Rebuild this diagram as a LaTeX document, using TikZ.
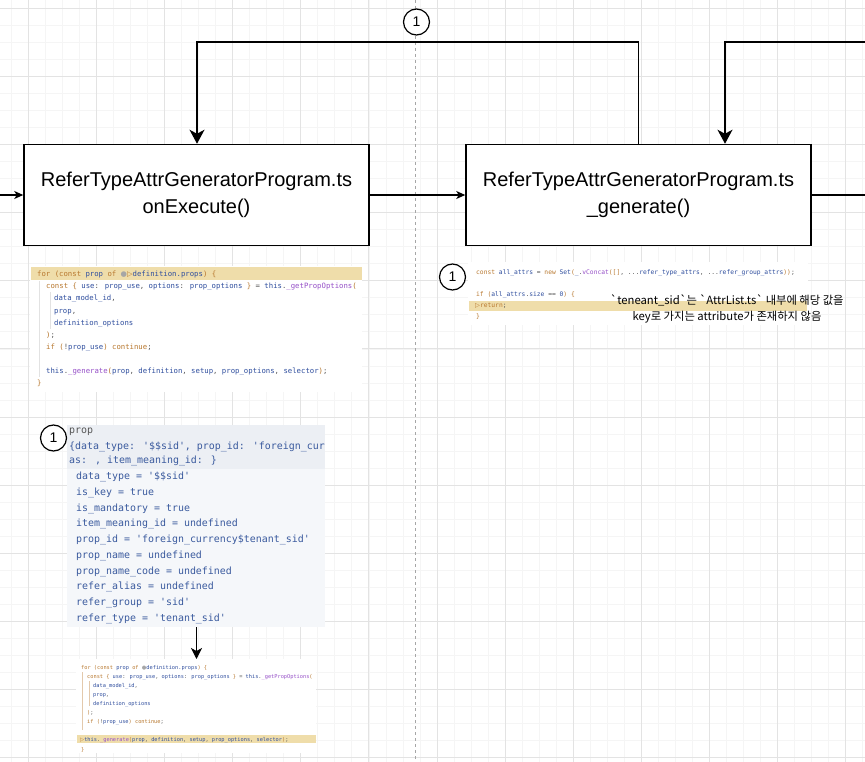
\documentclass[tikz,border=0pt]{standalone}
\usepackage{fontspec}
\setmainfont{Liberation Sans}
\newfontfamily\codefont{DejaVu Sans Mono}[Ligatures=TeXOff]
\newfontfamily\krfont{Noto Sans CJK KR}[Ligatures=TeXOff]
\newfontfamily\symfont{DejaVu Sans}
\usetikzlibrary{arrows.meta,calc}
\definecolor{kwc}{HTML}{B8782F}
\definecolor{idc}{HTML}{2F4E9E}
\definecolor{fnc}{HTML}{9650C8}
\definecolor{pnc}{HTML}{555555}
\definecolor{hlc}{HTML}{EFDDAA}
\definecolor{dbgtxt}{HTML}{3A5A9E}
\definecolor{dbghead}{HTML}{ECEFF4}
\definecolor{dbgbody}{HTML}{F5F7FA}
\definecolor{gridmaj}{HTML}{E3E3E3}
\definecolor{gridmin}{HTML}{F5F5F5}
\definecolor{guide}{HTML}{E2E2E2}
\newcommand\ckw[1]{\textcolor{kwc}{#1}}
\newcommand\cid[1]{\textcolor{idc}{#1}}
\newcommand\cfn[1]{\textcolor{fnc}{#1}}
\newcommand\cpn[1]{\textcolor{pnc}{#1}}
\newcommand\tri{{\symfont\textcolor{kwc}{▷}}}
\newcommand\bdot{{\symfont\textcolor{gray!70}{●}}}
\begin{document}
\begin{tikzpicture}[x=1pt,y=-1pt,
  box/.style={draw, line width=1.5pt, fill=white, minimum width=345pt, minimum height=101pt,
    align=center, inner sep=0pt, font=\fontsize{20}{27}\selectfont},
  circlabel/.style={draw, circle, line width=1.2pt, fill=white, minimum size=26pt, inner sep=0pt,
    font=\fontsize{14}{14}\selectfont},
  conn/.style={line width=1.4pt, draw=black},
  bigtip/.tip={Stealth[length=14pt,width=15pt,inset=4pt]},
  smalltip/.tip={Stealth[length=9pt,width=8pt,inset=2.5pt]},
  midtip/.tip={Stealth[length=11pt,width=11pt,inset=3pt]},
  codeA/.style={anchor=west, inner sep=0pt, text height=0.75em, text depth=0.25em, text=pnc,
    font=\codefont\fontsize{7.3}{8}\selectfont},
  codeB/.style={codeA, font=\codefont\fontsize{6.3}{7}\selectfont},
  codeD/.style={codeA, font=\codefont\fontsize{5.3}{6}\selectfont},
  dbgline/.style={anchor=west, inner sep=0pt, text height=0.75em, text depth=0.25em, text=dbgtxt,
    font=\codefont\fontsize{9.95}{11}\selectfont},
  panel/.style={anchor=north west, inner sep=0pt, draw=none},
  gmin/.style={draw=gridmin, line width=0.6pt},
  gmaj/.style={draw=gridmaj, line width=0.8pt}
]
\useasboundingbox (0,0) rectangle (865,762);
\fill[white] (0,0) rectangle (865,762);
% grid
\foreach \i in {0,...,50} \draw[gmin] ({11.275+17.025*\i},0) -- ({11.275+17.025*\i},762);
\foreach \i in {0,...,44} \draw[gmin] (0,{8.3+17.025*\i}) -- (865,{8.3+17.025*\i});
\foreach \i in {0,...,12} \draw[gmaj] ({28.3+68.1*\i},0) -- ({28.3+68.1*\i},762);
\foreach \i in {0,...,11} \draw[gmaj] (0,{8.3+68.1*\i}) -- (865,{8.3+68.1*\i});
% dashed separator
\draw[draw=black!35, line width=0.8pt, dash pattern=on 3pt off 3pt] (415.7,0) -- (415.7,762);

% main boxes
\node[box] (b1) at (196.5,195) {ReferTypeAttrGeneratorProgram.ts\\onExecute()};
\node[box] (b2) at (638.5,195) {ReferTypeAttrGeneratorProgram.ts\\\_generate()};
\coordinate (lin) at (0,195);
\coordinate (rout) at (865,195);
\coordinate (ttop) at (197,42);
\coordinate (rin) at (865,42);
\coordinate (xr) at (725,0);
\draw[conn,-smalltip] (lin) -- (b1.west);
\draw[conn,-smalltip] (b1.east) -- (b2.west);
\draw[conn] (b2.east) -- (rout);
\draw[conn,-bigtip] (b2.north) |- (ttop) -- (b1.north -| ttop);
\draw[conn,-bigtip] (rin) -| (b2.north -| xr);
\node[circlabel] (c1) at (416.5,22) {1};

% snippet 1
\node[panel, fill=white, minimum width=332pt, minimum height=126pt] (s1) at (30,266) {};
\fill[hlc] (31,267.5) rectangle (362,280);
\draw[guide, line width=0.5pt] (39,281) -- (39,377);
\draw[guide, line width=0.5pt] (50,292) -- (50,329);
\node[codeA] (s1l1) at (37,274) {\ckw{for} \ckw{(const} \cid{prop} \ckw{of} \bdot\tri\cid{definition.props}\ckw{) \{}};
\node[codeA] (s1l2) at (46,286) {\ckw{const \{} \cid{use}: \cid{prop\_use}, \cid{options}: \cid{prop\_options} \ckw{\}} = \cid{this}.\cfn{\_getPropOptions}\ckw{(}};
\node[codeA] (s1l3) at (54,298) {\cid{data\_model\_id},};
\node[codeA] (s1l4) at (54,311) {\cid{prop},};
\node[codeA] (s1l5) at (54,323) {\cid{definition\_options}};
\node[codeA] (s1l6) at (46,335) {\ckw{)};};
\node[codeA] (s1l7) at (46,347) {\ckw{if} \ckw{(}!\cid{prop\_use}\ckw{)} \ckw{continue};};
\node[codeA] (s1l8) at (46,371) {\cid{this}.\cfn{\_generate}\ckw{(}\cid{prop}, \cid{definition}, \cid{setup}, \cid{prop\_options}, \cid{selector}\ckw{)};};
\node[codeA] (s1l9) at (37,383) {\ckw{\}}};

% snippet 2
\node[panel, fill=white, minimum width=340pt, minimum height=63pt] (s2) at (468,262) {};
\fill[hlc] (469,301) rectangle (807,311);
\node[codeB] (s2l1) at (476,272) {\ckw{const} \cid{all\_attrs} = \ckw{new} \cid{Set}\ckw{(}\cid{\_}.\cfn{vConcat}\ckw{([]}, ...\cid{refer\_type\_attrs}, ...\cid{refer\_group\_attrs}\ckw{))};};
\node[codeB] (s2l2) at (476,294) {\ckw{if} \ckw{(}\cid{all\_attrs}.\cid{size} == \cid{0}\ckw{)} \ckw{\{}};
\node[codeB] (s2l3) at (475,305) {\tri\ckw{return};};
\node[codeB] (s2l4) at (476,316) {\ckw{\}}};
\node[circlabel] (c2) at (452.5,277) {1};
\node[align=center, inner sep=0pt, font=\krfont\fontsize{11.3}{16}\selectfont] (note) at (727,309)
  {`teneant\_sid`는 `AttrList.ts` 내부에 해당 값을\\key로 가지는 attribute가 존재하지 않음};

% debugger popup
\node[panel, fill=dbgbody, minimum width=258pt, minimum height=202pt] (dbg) at (67,425) {};
\fill[dbghead] (67,425) rectangle (325,468.5);
\begin{scope}
\clip (67,425) rectangle (325,627);
\node[dbgline, text=pnc] (d0) at (69,430.5) {prop};
\node[dbgline] (d1) at (69,446.5) {\{data\_type: '\$\$sid', prop\_id: 'foreign\_cur};
\node[dbgline] (d2) at (69,461) {as: , item\_meaning\_id: \}};
\node[dbgline] (d3) at (76,477.3) {data\_type = '\$\$sid'};
\node[dbgline] (d4) at (76,493) {is\_key = true};
\node[dbgline] (d5) at (76,508.7) {is\_mandatory = true};
\node[dbgline] (d6) at (76,524.4) {item\_meaning\_id = undefined};
\node[dbgline] (d7) at (76,540.1) {prop\_id = 'foreign\_currency\$tenant\_sid'};
\node[dbgline] (d8) at (76,555.8) {prop\_name = undefined};
\node[dbgline] (d9) at (76,571.5) {prop\_name\_code = undefined};
\node[dbgline] (d10) at (76,587.3) {refer\_alias = undefined};
\node[dbgline] (d11) at (76,603.1) {refer\_group = 'sid'};
\node[dbgline] (d12) at (76,619) {refer\_type = 'tenant\_sid'};
\end{scope}
\node[circlabel] (c3) at (53.5,438) {1};

% snippet 4
\node[panel, fill=white, minimum width=240pt, minimum height=94pt] (s4) at (76,659) {};
\fill[hlc] (77,734.5) rectangle (316,742.5);
\draw[kwc!40, line width=0.5pt] (82,672) -- (82,730);
\draw[kwc!40, line width=0.5pt] (89,681) -- (89,706);
\begin{scope}
\clip (76,659) rectangle (316,752);
\node[codeD] (s4l1) at (81,667) {\ckw{for} \ckw{(const} \cid{prop} \ckw{of} \bdot\cid{definition.props}\ckw{) \{}};
\node[codeD] (s4l2) at (87,676) {\ckw{const \{} \cid{use}: \cid{prop\_use}, \cid{options}: \cid{prop\_options} \ckw{\}} = \cid{this}.\cfn{\_getPropOptions}\ckw{(}};
\node[codeD] (s4l3) at (93,685) {\cid{data\_model\_id},};
\node[codeD] (s4l4) at (93,694) {\cid{prop},};
\node[codeD] (s4l5) at (93,702.5) {\cid{definition\_options}};
\node[codeD] (s4l6) at (87,712) {\ckw{)};};
\node[codeD] (s4l7) at (87,721) {\ckw{if} \ckw{(}!\cid{prop\_use}\ckw{)} \ckw{continue};};
\node[codeD] (s4l8) at (80,738.5) {\tri\cid{this}.\cfn{\_generate}\ckw{(}\cid{prop}, \cid{definition}, \cid{setup}, \cid{prop\_options}, \cid{selector}\ckw{)};};
\node[codeD] (s4l9) at (81,748.5) {\ckw{\}}};
\end{scope}
\draw[conn,-midtip] (dbg.south -| b1.north) -- (s4.north -| b1.north);
\end{tikzpicture}
\end{document}
